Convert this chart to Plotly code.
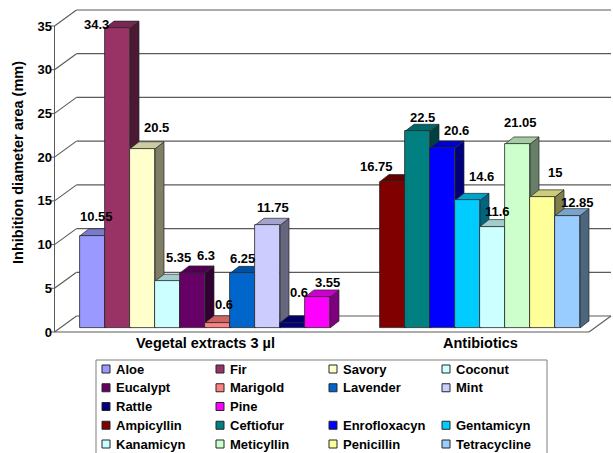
import plotly.graph_objects as go

# ---- data -------------------------------------------------------------
categories = ["Vegetal extracts 3 µl", "Antibiotics"]

extract_names = ["Aloe", "Fir", "Savory", "Coconut", "Eucalypt",
                 "Marigold", "Lavender", "Mint", "Rattle", "Pine"]
extract_values = [10.55, 34.3, 20.5, 5.35, 6.3, 0.6, 6.25, 11.75, 0.6, 3.55]

antibiotic_names = ["Ampicyllin", "Ceftiofur", "Enrofloxacyn", "Gentamicyn",
                    "Kanamicyn", "Meticyllin", "Penicillin", "Tetracycline"]
antibiotic_values = [16.75, 22.5, 20.6, 14.6, 11.6, 21.05, 15, 12.85]

y_ticks = [0, 5, 10, 15, 20, 25, 30, 35]

# ---- styling ----------------------------------------------------------
extract_colors = ["#9999FF", "#993366", "#FFFFCC", "#CCFFFF", "#660066",
                  "#FF8080", "#0066CC", "#CCCCFF", "#000080", "#FF00FF"]
antibiotic_colors = ["#800000", "#008080", "#0000FF", "#00CCFF",
                     "#CCFFFF", "#CCFFCC", "#FFFF99", "#99CCFF"]

# value-label nudges in pixels (right, down) from the top centre of each bar
extract_label_nudge = [(4, -19), (-21, -4), (14, -21), (11, -24), (13, -17),
                       (6, -18), (0, -15), (5, -18), (6, -30), (10, -14)]
antibiotic_label_nudge = [(-16, -15), (5, -14), (14, -17), (14, -24),
                          (5, -15), (3, -21), (12, -24), (10, -13)]

FONT = "Arial, Liberation Sans, sans-serif"
EDGE = "#262626"
GRID = "#5a5a5a"

# ---- geometry of the pseudo-3D box ------------------------------------
W, H = 613, 453
ML, MR, MT, MB = 50, 0, 8, 0
plot_w = W - ML - MR
plot_h = H - MT - MB

SLOT_PX = 25.0                 # width of one bar in pixels
FIRST_BAR_PX = 80.0            # left edge of the first bar
ZERO_PX = 328.0                # pixel row of value 0 on the bar plane
PX_PER_UNIT = 306.0 / 35.0     # vertical pixels per mm

x_lo = (ML - FIRST_BAR_PX) / SLOT_PX
x_hi = x_lo + plot_w / SLOT_PX
y_lo = -(H - MB - ZERO_PX) / PX_PER_UNIT
y_hi = (ZERO_PX - MT) / PX_PER_UNIT


def dxu(px):
    return px / SLOT_PX


def dyu(px):
    return px / PX_PER_UNIT


def paper_x(px):
    return (px - ML) / plot_w


def paper_y(py):
    return (H - MB - py) / plot_h


BAR_DEPTH = (dxu(9), dyu(7))          # receding offset of the bar tops/sides
FRONT_DROP = dyu(4)                   # front edge of the floor/axis below the bar plane
BACK_RISE = dyu(12)                   # back wall above the bar plane
WALL_DEPTH_X = dxu(22)                # horizontal run from front edge to back wall

GROUP_GAP_SLOTS = 2


def shade(hex_color, f):
    h = hex_color.lstrip("#")
    r, g, b = (int(h[i:i + 2], 16) for i in (0, 2, 4))
    return "#{:02X}{:02X}{:02X}".format(int(r * f), int(g * f), int(b * f))


fig = go.Figure()
shapes = []
annotations = []

# ---- walls, floor and grid -------------------------------------------
front_left = x_lo + dxu(4.5)
back_left = front_left + WALL_DEPTH_X
back_right = x_hi - dxu(2)
front_right = back_right - WALL_DEPTH_X

for v in y_ticks:
    # horizontal grid on the back wall
    shapes.append(dict(type="line", xref="x", yref="y", layer="below",
                       x0=back_left, x1=back_right,
                       y0=v + BACK_RISE, y1=v + BACK_RISE,
                       line=dict(color=GRID, width=1.2)))
    # receding line on the side wall
    shapes.append(dict(type="line", xref="x", yref="y", layer="below",
                       x0=front_left, x1=back_left,
                       y0=v - FRONT_DROP, y1=v + BACK_RISE,
                       line=dict(color=GRID, width=1.1)))
    # small tick on the front axis
    shapes.append(dict(type="line", xref="x", yref="y", layer="below",
                       x0=front_left - dxu(4), x1=front_left,
                       y0=v - FRONT_DROP, y1=v - FRONT_DROP,
                       line=dict(color=GRID, width=1)))

# front axis line
shapes.append(dict(type="line", xref="x", yref="y", layer="below",
                   x0=front_left, x1=front_left,
                   y0=-FRONT_DROP, y1=y_ticks[-1] - FRONT_DROP,
                   line=dict(color=GRID, width=1)))
# floor front edge and right edge
shapes.append(dict(type="line", xref="x", yref="y", layer="below",
                   x0=front_left, x1=front_right,
                   y0=-FRONT_DROP, y1=-FRONT_DROP,
                   line=dict(color=GRID, width=1.1)))
shapes.append(dict(type="line", xref="x", yref="y", layer="below",
                   x0=front_right, x1=back_right,
                   y0=-FRONT_DROP, y1=BACK_RISE,
                   line=dict(color=GRID, width=1.1)))

# ---- bars --------------------------------------------------------------
groups = [
    (extract_names, extract_values, extract_colors, extract_label_nudge),
    (antibiotic_names, antibiotic_values, antibiotic_colors, antibiotic_label_nudge),
]

LEGEND_COLS = 4
legend_entries = []            # (name, colour) or None for an empty cell

tick_positions = []
start = 0
for names, values, colors, nudges in groups:
    tick_positions.append(start + len(names) / 2.0)
    for i, (name, val, col, (nx, ny)) in enumerate(zip(names, values, colors, nudges)):
        left = start + i
        right = left + 1
        ddx, ddy = BAR_DEPTH
        # receding side and top faces, drawn underneath the front faces
        shapes.append(dict(
            type="path", xref="x", yref="y", layer="between",
            path=f"M{right},{0} L{right},{val} L{right + ddx},{val + ddy} "
                 f"L{right + ddx},{ddy} Z",
            fillcolor=shade(col, 0.5), line=dict(color=EDGE, width=0.7)))
        shapes.append(dict(
            type="path", xref="x", yref="y", layer="between",
            path=f"M{left},{val} L{right},{val} L{right + ddx},{val + ddy} "
                 f"L{left + ddx},{val + ddy} Z",
            fillcolor=shade(col, 0.8), line=dict(color=EDGE, width=0.7)))
        fig.add_trace(go.Bar(
            x=[left + 0.5], y=[val], width=[1], name=name, showlegend=False,
            marker=dict(color=col, line=dict(color=EDGE, width=0.8)),
            hovertemplate=f"{name}: %{{y}}<extra></extra>"))
        annotations.append(dict(
            x=left + 0.5, y=val, xref="x", yref="y", text=f"{val:g}",
            showarrow=False, xanchor="center", yanchor="middle",
            xshift=nx, yshift=-ny,
            font=dict(family=FONT, size=13, color="black", weight="bold")))
        legend_entries.append((name, col))
    # each group starts on a fresh legend row
    while len(legend_entries) % LEGEND_COLS:
        legend_entries.append(None)
    start += len(names) + GROUP_GAP_SLOTS

# category labels under each group
for pos, text in zip(tick_positions, categories):
    annotations.append(dict(
        x=pos, y=paper_y(343), xref="x", yref="paper", text=text,
        showarrow=False, xanchor="center", yanchor="middle",
        font=dict(family=FONT, size=14.5, color="black", weight="bold")))

# y-axis title
annotations.append(dict(
    x=paper_x(18), y=paper_y(163), xref="paper", yref="paper",
    text="Inhibition diameter area (mm)", textangle=-90, showarrow=False,
    xanchor="center", yanchor="middle",
    font=dict(family=FONT, size=14.5, color="black", weight="bold")))

# ---- legend: framed 4-column key under the chart ------------------------
LEG_BOX = (96, 360, 547, 456)          # left, top, right, bottom in px
LEG_COL_SWATCH_PX = [106, 220, 333, 446]
LEG_ROW0_PX, LEG_ROW_PITCH = 369, 18.75
SWATCH = 8

shapes.append(dict(type="rect", xref="paper", yref="paper", layer="above",
                   x0=paper_x(LEG_BOX[0]), x1=paper_x(LEG_BOX[2]),
                   y0=paper_y(LEG_BOX[3]), y1=paper_y(LEG_BOX[1]),
                   fillcolor="white", line=dict(color="#7f7f7f", width=1)))
for k, entry in enumerate(legend_entries):
    if entry is None:
        continue
    name, col = entry
    cx = LEG_COL_SWATCH_PX[k % LEGEND_COLS]
    cy = LEG_ROW0_PX + LEG_ROW_PITCH * (k // LEGEND_COLS)
    shapes.append(dict(type="rect", xref="paper", yref="paper", layer="above",
                       x0=paper_x(cx - SWATCH / 2), x1=paper_x(cx + SWATCH / 2),
                       y0=paper_y(cy + SWATCH / 2), y1=paper_y(cy - SWATCH / 2),
                       fillcolor=col, line=dict(color=EDGE, width=1)))
    annotations.append(dict(
        x=paper_x(cx + 8), y=paper_y(cy), xref="paper", yref="paper",
        text=name, showarrow=False, xanchor="left", yanchor="middle",
        font=dict(family=FONT, size=13, color="black", weight="bold")))

fig.update_layout(
    width=W, height=H,
    margin=dict(l=ML, r=MR, t=MT, b=MB, pad=0),
    paper_bgcolor="white", plot_bgcolor="white",
    barmode="overlay", bargap=0,
    showlegend=False,
    shapes=shapes, annotations=annotations,
    xaxis=dict(range=[x_lo, x_hi], showgrid=False, zeroline=False,
               showline=False, ticks="", showticklabels=False,
               fixedrange=True),
    yaxis=dict(range=[y_lo, y_hi], showgrid=False, zeroline=False,
               showline=False, ticks="", tickmode="array", tickvals=y_ticks,
               ticklabelshift=4, ticklabelstandoff=-3,
               tickfont=dict(family=FONT, size=13, color="black", weight="bold"),
               fixedrange=True),
)

fig.write_html("out.html")
